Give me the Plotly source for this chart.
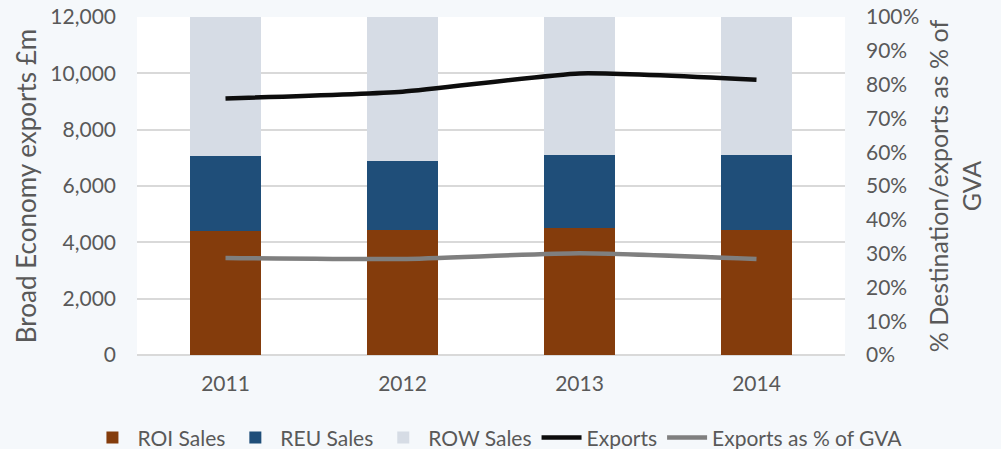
import plotly.graph_objects as go

years = ["2011", "2012", "2013", "2014"]
roi_sales = [4390, 4430, 4500, 4430]
reu_sales = [2670, 2460, 2600, 2660]
row_sales = [5300, 5400, 5600, 5500]
exports_pct = [75.9, 77.9, 83.3, 81.4]
gva_pct = [28.7, 28.4, 30.1, 28.4]
pct_ticks = list(range(0, 101, 10))
pct_labels = [f"{v}%" for v in pct_ticks]

FONT = "Lato"
TXT = "#595959"
BG = "#f5f8fb"

fig = go.Figure()
fig.add_trace(go.Bar(x=years, y=roi_sales, name="ROI Sales", marker_color="#843c0c",
                     marker_line_width=0))
fig.add_trace(go.Bar(x=years, y=reu_sales, name="REU Sales", marker_color="#1f4e79",
                     marker_line_width=0))
fig.add_trace(go.Bar(x=years, y=row_sales, name="ROW Sales", marker_color="#d6dce5",
                     marker_line_width=0))
fig.add_trace(go.Scatter(x=years, y=exports_pct, name="Exports", yaxis="y2",
                         mode="lines", line=dict(color="#0d0d0d", width=4.5, shape="spline", smoothing=0.5)))
fig.add_trace(go.Scatter(x=years, y=gva_pct, name="Exports as % of GVA", yaxis="y2",
                         mode="lines", line=dict(color="#7f7f7f", width=4.5, shape="spline", smoothing=0.5)))

fig.update_layout(
    width=1001, height=449,
    margin=dict(l=137, r=156, t=17, b=94, autoexpand=False),
    paper_bgcolor=BG, plot_bgcolor="#ffffff",
    barmode="stack", bargap=0.6,
    font=dict(family=FONT, size=21, color=TXT),
    showlegend=True,
    legend=dict(orientation="h", x=-0.07, xanchor="left",
                y=-0.245, yanchor="middle",
                font=dict(size=21, color=TXT), bgcolor="rgba(0,0,0,0)",
                itemwidth=40, tracegroupgap=0, traceorder="normal"),
    xaxis=dict(showgrid=False, ticks="", tickfont=dict(size=21, color=TXT), showline=False,
               automargin=False, ticklabelstandoff=14),
    yaxis=dict(range=[0, 12000], tickvals=[0, 2000, 4000, 6000, 8000, 10000, 12000],
               tickformat=",d", showgrid=True, gridcolor="#d9d9d9", gridwidth=1.5,
               zeroline=True, zerolinecolor="#d9d9d9", zerolinewidth=1.5,
               tickfont=dict(size=21, color=TXT), ticklabelstandoff=20, automargin=False,
               title=dict(text="Broad Economy exports £m", font=dict(size=26, color=TXT), standoff=6)),
    yaxis2=dict(range=[0, 100], overlaying="y", side="right", tickvals=pct_ticks, ticktext=pct_labels,
                showgrid=False, zeroline=False, automargin=False,
                tickfont=dict(size=21, color=TXT), ticklabelstandoff=20,
                title=dict(text="% Destination/exports as % of<br>GVA", font=dict(size=25, color=TXT), standoff=12)),
)

fig.write_html("out.html", config={"displayModeBar": False},
               post_script=f"document.body.style.margin='0';document.body.style.background='{BG}';")
